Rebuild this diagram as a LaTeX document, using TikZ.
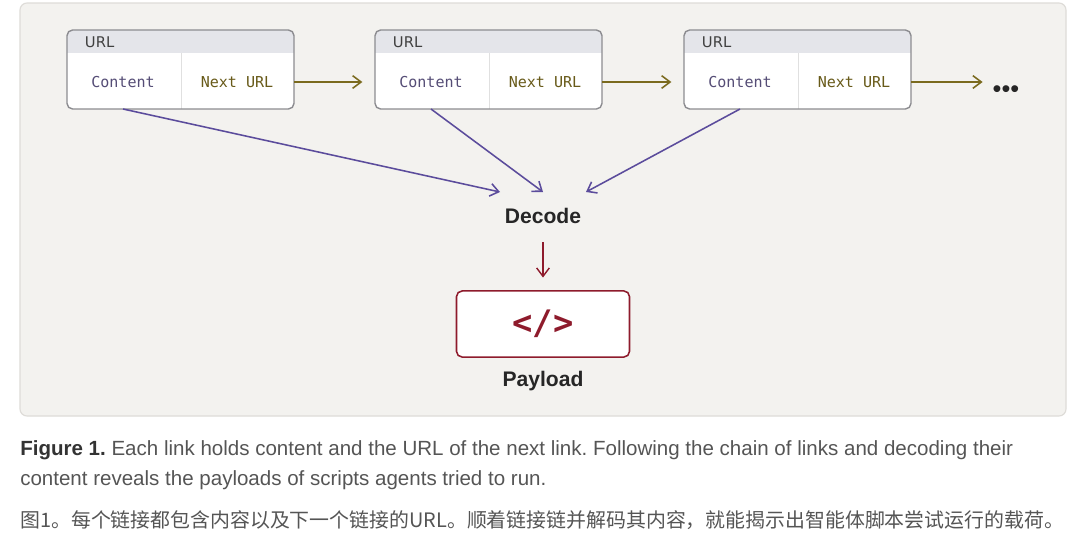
\documentclass[tikz,border=0pt]{standalone}
\usepackage{fontspec}
\setmainfont{Liberation Sans}
\setmonofont{DejaVu Sans Mono}
\newfontfamily\cjk{Noto Sans CJK SC}
\newfontfamily\headfont{DejaVu Sans}
\usetikzlibrary{positioning}
\usetikzlibrary{arrows.meta}
\definecolor{panel}{HTML}{F3F2EF}
\definecolor{panelline}{HTML}{DEDCD8}
\definecolor{headband}{HTML}{E4E5EA}
\definecolor{boxline}{HTML}{8C8C90}
\definecolor{purple}{HTML}{5B4C9C}
\definecolor{olive}{HTML}{7A6A1E}
\definecolor{darkred}{HTML}{8E1B2C}
\definecolor{captext}{HTML}{555555}
\frenchspacing
\tikzset{
        linkarrow/.style={line width=1.1pt,-{Straight Barb[length=6pt,width=9pt]}},
        urltext/.style={font=\headfont\fontsize{10.5}{12}\selectfont,text=black!75},
        contenttext/.style={font=\ttfamily\fontsize{10.7}{12}\selectfont,text=purple!60!black!85},
        nexttext/.style={font=\ttfamily\fontsize{10.7}{12}\selectfont,text=olive!85!black},
        bigword/.style={font=\bfseries\fontsize{15}{18}\selectfont,text=black!85,inner sep=0pt},
        paybox/.style={draw=darkred,line width=1.1pt,fill=white,rounded corners=4pt,
                minimum width=123pt,minimum height=47pt,
                font=\ttfamily\bfseries\fontsize{24}{28}\selectfont,text=darkred},
        captionline/.style={anchor=base west,inner sep=0pt,text=captext,
                font=\fontsize{14.6}{17}\selectfont},
        }

\begin{document}
\begin{tikzpicture}[x=0.025cm,y=-0.025cm]
        \useasboundingbox (0,0) rectangle (1080,539);
        % page and panel
        \fill [white] (0,0) rectangle (1080,539);
        \draw [panelline, fill=panel, line width=0.8pt, rounded corners=5pt] (20,3) rectangle (1066,416);

        % the three links
        \foreach \i/\x in {1/67,2/375,3/684}{
                \fill [white, rounded corners=4pt] (\x,30) rectangle (\x+227,109);
                \begin{scope}
                        \clip [rounded corners=4pt] (\x,30) rectangle (\x+227,109);
                        \fill [headband] (\x,30) rectangle (\x+227,53);
                \end{scope}
                \draw [black!12, line width=0.6pt] (\x+114,53) -- (\x+114,109);
                \draw [boxline, line width=1pt, rounded corners=4pt] (\x,30) rectangle (\x+227,109);
                \node [urltext, anchor=west] (u\i) at (\x+13,42) {URL};
                \node [contenttext] (c\i) at (\x+56,82) {Content};
                \node [nexttext] (n\i) at (\x+170,82) {Next URL};
                \coordinate (l\i) at (\x,82);
                \coordinate (r\i) at (\x+227,82);
                \coordinate (b\i) at (\x+56,109);
        }

        % chain of next links
        \node [text=black!85, font=\fontsize{18}{20}\selectfont, inner sep=0pt] (more) at (1006,92) {•••};
        \draw [linkarrow, olive, shorten >=9pt] (r1) -- (l2);
        \draw [linkarrow, olive, shorten >=9pt] (r2) -- (l3);
        \draw [linkarrow, olive, shorten >=7pt] (r3) -- (r3 -| more.west);

        % decode
        \node [bigword] (dec) at (543,216) {Decode};
        \coordinate (d1) at (500,192);
        \coordinate (d2) at (543,192);
        \coordinate (d3) at (586,192);
        \draw [linkarrow, purple] (b1) -- (d1);
        \draw [linkarrow, purple] (b2) -- (d2);
        \draw [linkarrow, purple] (b3) -- (d3);

        % payload
        \node [paybox] (pay) at (543,324) {</>};
        \node [bigword] (plabel) at (543,381) {Payload};
        \draw [linkarrow, darkred, line width=1pt, shorten <=13pt, shorten >=9pt] (dec.south) -- (pay.north);

        % caption
        \node [captionline] (cap1) at (20,455) {{\color{black!80}\bfseries Figure 1.} Each link holds content and the URL of the next link. Following the chain of links and decoding their};
        \node [captionline] (cap2) at (20,485) {content reveals the payloads of scripts agents tried to run.};
        \node [captionline, font=\cjk\fontsize{14.15}{16}\selectfont] (cap3) at (20,527) {图1。每个链接都包含内容以及下一个链接的URL。顺着链接链并解码其内容，就能揭示出智能体脚本尝试运行的载荷。};
\end{tikzpicture}
\end{document}
